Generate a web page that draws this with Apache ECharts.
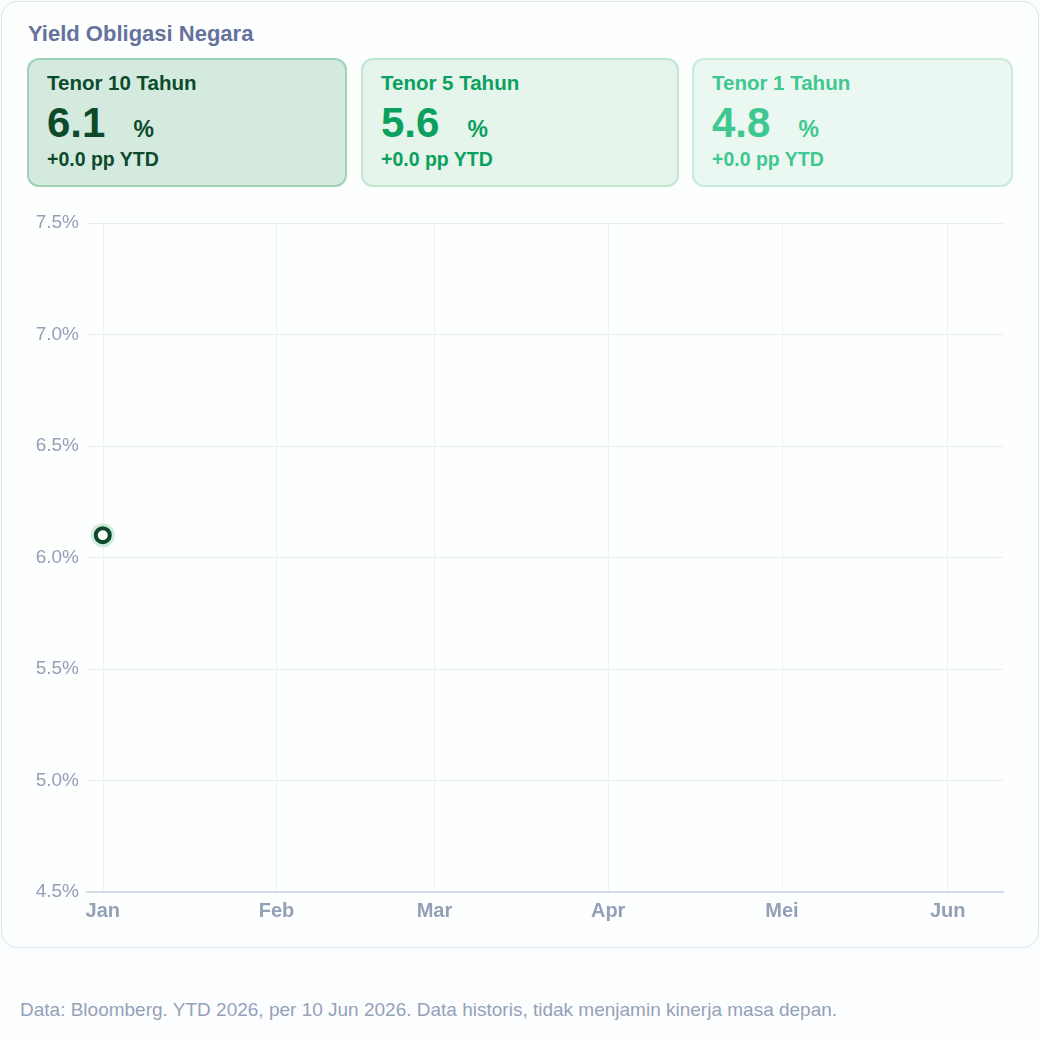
<!DOCTYPE html>
<html>
<head>
<meta charset="utf-8">
<script src="https://cdn.jsdelivr.net/npm/echarts@6/dist/echarts.min.js"></script>
<style>
  html, body { margin: 0; padding: 0; }
  body {
    width: 1040px; height: 1040px; position: relative;
    background: #fcfdfe;
    font-family: "Liberation Sans", Arial, sans-serif;
  }
  .panel {
    position: absolute; left: 1px; top: 1px; width: 1036px; height: 945px;
    background: #fdfefe; border: 1px solid #dde3ec; border-radius: 16px;
  }
  .title {
    position: absolute; left: 26px; top: 19px;
    font-size: 22px; font-weight: bold; color: #64739c;
  }
  .kpi {
    position: absolute; top: 58px; height: 125px;
    border-radius: 12px; border: 2px solid; box-sizing: content-box;
  }
  .kpi .lbl { position: absolute; left: 18px; top: 11px; font-size: 20.5px; font-weight: bold; }
  .kpi .val { position: absolute; left: 18px; top: 39px; font-size: 42px; font-weight: bold; }
  .kpi .val span { font-size: 23px; margin-left: 28px; }
  .kpi .sub { position: absolute; left: 18px; top: 88px; font-size: 19.5px; font-weight: bold; }
  #chart { position: absolute; left: 0; top: 201px; width: 1040px; height: 748px; }
  .foot {
    position: absolute; left: 20px; top: 999px;
    font-size: 19px; color: #94a2b8;
  }
</style>
</head>
<body>
<div class="panel">
  <div class="title">Yield Obligasi Negara</div>
</div>
<div id="cards"></div>
<div id="chart"></div>
<div class="foot">Data: Bloomberg. YTD 2026, per 10 Jun 2026. Data historis, tidak menjamin kinerja masa depan.</div>
<script>
// KPI cards
const TENORS = ['Tenor 10 Tahun', 'Tenor 5 Tahun', 'Tenor 1 Tahun'];
const LATEST = [6.1, 5.6, 4.8];
const YTD_CHANGE = [0.0, 0.0, 0.0];

// Chart data (only the first observation of 10Y is plotted so far)
const DATES_10Y = ['2026-01-01'];
const YIELD_10Y = [6.1];
const RANGE_START = '2025-12-30';
const RANGE_END = '2026-06-10';
const MONTH_LABELS = ['Jan', 'Feb', 'Mar', 'Apr', 'Mei', 'Jun', 'Jul', 'Agu', 'Sep', 'Okt', 'Nov', 'Des'];
const Y_TICKS = [4.5, 5.0, 5.5, 6.0, 6.5, 7.0, 7.5];

const CARD_STYLE = [
    { bg: '#d4eadf', border: '#9fd2b7', color: '#0c4a2b', left: 27, width: 316 },
    { bg: '#e5f5ec', border: '#bee7d1', color: '#0aa05d', left: 361, width: 314 },
    { bg: '#ebf7f1', border: '#c7ecda', color: '#3ec890', left: 692, width: 317 }
];

const cards = document.getElementById('cards');
TENORS.forEach((name, i) => {
    const s = CARD_STYLE[i];
    const d = document.createElement('div');
    d.className = 'kpi';
    d.style.left = s.left + 'px';
    d.style.width = s.width + 'px';
    d.style.background = s.bg;
    d.style.borderColor = s.border;
    d.style.color = s.color;
    const chg = YTD_CHANGE[i];
    d.innerHTML = `<div class="lbl">${name}</div>` +
        `<div class="val">${LATEST[i].toFixed(1)}<span>%</span></div>` +
        `<div class="sub">${chg >= 0 ? '+' : ''}${chg.toFixed(1)} pp YTD</div>`;
    cards.appendChild(d);
});

// Trading-day categories (weekdays) over the displayed range
function pad(n) { return (n < 10 ? '0' : '') + n; }
function ymd(d) { return d.getFullYear() + '-' + pad(d.getMonth() + 1) + '-' + pad(d.getDate()); }
const days = [];
{
    const a = RANGE_START.split('-').map(Number), b = RANGE_END.split('-').map(Number);
    const cur = new Date(a[0], a[1] - 1, a[2]);
    const end = new Date(b[0], b[1] - 1, b[2]);
    while (cur <= end) {
        const wd = cur.getDay();
        if (wd !== 0 && wd !== 6) days.push(ymd(cur));
        cur.setDate(cur.getDate() + 1);
    }
}
const monthOf = s => Number(s.slice(5, 7)) - 1;
const isMonthStart = idx => idx > 0 && monthOf(days[idx]) !== monthOf(days[idx - 1]);

const line10 = days.map(d => {
    const k = DATES_10Y.indexOf(d);
    return k >= 0 ? YIELD_10Y[k] : null;
});
const halo = DATES_10Y.map((d, i) => [d, YIELD_10Y[i]]);

const chart = echarts.init(document.getElementById('chart'));
chart.setOption({
    animation: false,
    grid: { left: 87, right: 37, top: 22, bottom: 57 },
    xAxis: {
        type: 'category',
        data: days,
        boundaryGap: false,
        axisLine: { lineStyle: { color: '#d6dde8', width: 2 } },
        axisTick: { show: false },
        splitLine: { show: true, interval: idx => isMonthStart(idx), lineStyle: { color: '#eef1f5' } },
        axisLabel: {
            color: '#94a0b8', fontSize: 20, fontWeight: 'bold', margin: 9,
            fontFamily: 'Liberation Sans',
            interval: idx => isMonthStart(idx),
            formatter: v => MONTH_LABELS[monthOf(v)]
        }
    },
    yAxis: {
        type: 'value',
        min: Y_TICKS[0],
        max: Y_TICKS[Y_TICKS.length - 1],
        interval: 0.5,
        axisLine: { show: false },
        axisTick: { show: false },
        splitLine: { lineStyle: { color: '#e9edf3' } },
        axisLabel: {
            color: '#94a0b8', fontSize: 19, margin: 8,
            fontFamily: 'Liberation Sans',
            formatter: v => v.toFixed(1) + '%'
        }
    },
    series: [
        {
            name: 'halo',
            type: 'scatter',
            data: halo,
            symbolSize: 24,
            itemStyle: { color: '#c3e6d2' },
            silent: true
        },
        {
            name: 'Tenor 10 Tahun',
            type: 'line',
            data: line10,
            connectNulls: false,
            symbol: 'circle',
            symbolSize: 14,
            showSymbol: true,
            lineStyle: { color: '#0c4a2b', width: 3 },
            itemStyle: { color: '#ffffff', borderColor: '#0c4a2b', borderWidth: 4 }
        }
    ]
});
</script>
</body>
</html>
